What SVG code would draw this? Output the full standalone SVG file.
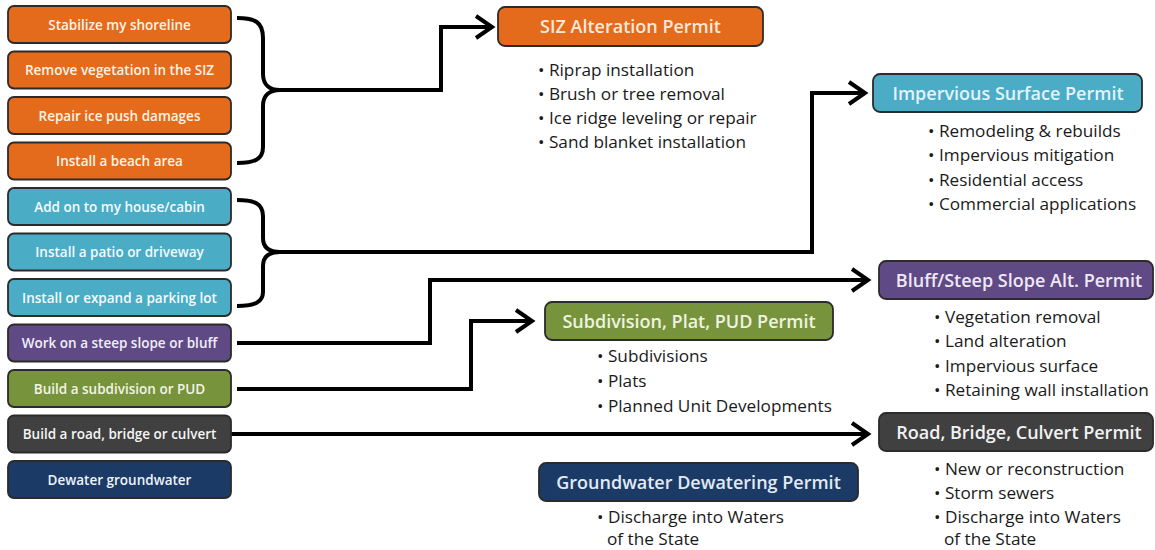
<svg xmlns="http://www.w3.org/2000/svg" width="1155" height="550" viewBox="0 0 1155 550">
<defs>
<marker id="arr" markerUnits="userSpaceOnUse" markerWidth="26" markerHeight="30" refX="20" refY="13" orient="auto" overflow="visible">
<path d="M4,2 L20,13 L4,24" fill="none" stroke="#000" stroke-width="4" stroke-linejoin="miter" stroke-linecap="butt"/>
</marker>
<style>
.box{stroke:#2b2b2b;stroke-width:1.8}
.lt{font-family:"Open Sans","Liberation Sans",Arial,sans-serif;font-weight:600;font-size:13.5px;text-anchor:middle}
.pt{font-family:"Open Sans","Liberation Sans",Arial,sans-serif;font-weight:600;font-size:18px;text-anchor:middle}
.bl{font-family:"Open Sans","Liberation Sans",Arial,sans-serif;font-size:17.2px;fill:#1a1a1a}
.or{fill:#E46A1C}.te{fill:#4BACC6}.pu{fill:#5F4A86}.gr{fill:#77933C}.dk{fill:#404040}.nv{fill:#1B3A66}
.con{fill:none;stroke:#000;stroke-width:4}
</style>
</defs>

<g id="connectors">
<path class="con" d="M237,18 C255,18 263,22 263,38 L263,74 C263,85 270,90 280,90 C270,90 263,95 263,106 L263,147 C263,159 255,163 237,163"/>
<path class="con" d="M280,90 H441 V27 H492" marker-end="url(#arr)"/>
<path class="con" d="M237,200 C255,200 263,204 263,216 L263,238 C263,248 270,252 280,252 C270,252 263,256 263,266 L263,292 C263,302 255,306 237,306"/>
<path class="con" d="M280,252 H812 V93 H865" marker-end="url(#arr)"/>
<path class="con" d="M237,343 H430 V280 H868" marker-end="url(#arr)"/>
<path class="con" d="M237,389 H471 V321 H532" marker-end="url(#arr)"/>
<path class="con" d="M231,434 H868" marker-end="url(#arr)"/>
</g>

<g id="n-stabilize"><rect class="box or" x="8" y="6" width="223" height="37" rx="6"/><text class="lt" x="119.5" y="29.5" fill="#FFF3E6">Stabilize my shoreline</text></g>
<g id="n-remove"><rect class="box or" x="8" y="51.5" width="223" height="37" rx="6"/><text class="lt" x="119.5" y="75" fill="#FFF3E6">Remove vegetation in the SIZ</text></g>
<g id="n-repair"><rect class="box or" x="8" y="97" width="223" height="37" rx="6"/><text class="lt" x="119.5" y="120.5" fill="#FFF3E6">Repair ice push damages</text></g>
<g id="n-beach"><rect class="box or" x="8" y="142.5" width="223" height="37" rx="6"/><text class="lt" x="119.5" y="166" fill="#FFF3E6">Install a beach area</text></g>
<g id="n-addon"><rect class="box te" x="8" y="188" width="223" height="37" rx="6"/><text class="lt" x="119.5" y="211.5" fill="#F4FBFD">Add on to my house/cabin</text></g>
<g id="n-patio"><rect class="box te" x="8" y="233.5" width="223" height="37" rx="6"/><text class="lt" x="119.5" y="257" fill="#F4FBFD">Install a patio or driveway</text></g>
<g id="n-parking"><rect class="box te" x="8" y="279" width="223" height="37" rx="6"/><text class="lt" x="119.5" y="302.5" fill="#F4FBFD">Install or expand a parking lot</text></g>
<g id="n-steep"><rect class="box pu" x="8" y="324.5" width="223" height="37" rx="6"/><text class="lt" x="119.5" y="348" fill="#F3EEF8">Work on a steep slope or bluff</text></g>
<g id="n-subdiv"><rect class="box gr" x="8" y="370" width="223" height="37" rx="6"/><text class="lt" x="119.5" y="393.5" fill="#F2F5E4">Build a subdivision or PUD</text></g>
<g id="n-road"><rect class="box dk" x="8" y="415.5" width="223" height="37" rx="6"/><text class="lt" x="119.5" y="439" fill="#F5F5F5">Build a road, bridge or culvert</text></g>
<g id="n-dewater"><rect class="box nv" x="8" y="461" width="223" height="37" rx="6"/><text class="lt" x="119.5" y="484.5" fill="#EEF3FA">Dewater groundwater</text></g>

<g id="p-siz"><rect class="box or" x="498" y="7" width="265" height="39" rx="7"/><text class="pt" x="630.5" y="33" fill="#FDE9D9">SIZ Alteration Permit</text>
<text class="bl" x="538" y="76">• Riprap installation</text>
<text class="bl" x="538" y="100">• Brush or tree removal</text>
<text class="bl" x="538" y="124">• Ice ridge leveling or repair</text>
<text class="bl" x="538" y="148">• Sand blanket installation</text></g>

<g id="p-impervious"><rect class="box te" x="873" y="74" width="269" height="38" rx="7"/><text class="pt" x="1008" y="99.5" fill="#E3F3F8">Impervious Surface Permit</text>
<text class="bl" x="928" y="137">• Remodeling &amp; rebuilds</text>
<text class="bl" x="928" y="161">• Impervious mitigation</text>
<text class="bl" x="928" y="186">• Residential access</text>
<text class="bl" x="928" y="210">• Commercial applications</text></g>

<g id="p-bluff"><rect class="box pu" x="879" y="261" width="274" height="38" rx="7"/><text class="pt" x="1019" y="286.5" fill="#EEE9F5">Bluff/Steep Slope Alt. Permit</text>
<text class="bl" x="934" y="323">• Vegetation removal</text>
<text class="bl" x="934" y="347">• Land alteration</text>
<text class="bl" x="934" y="372">• Impervious surface</text>
<text class="bl" x="934" y="396">• Retaining wall installation</text></g>

<g id="p-subdivision"><rect class="box gr" x="545" y="302" width="288" height="38" rx="7"/><text class="pt" x="689" y="327.5" fill="#EEF3E0">Subdivision, Plat, PUD Permit</text>
<text class="bl" x="597" y="362">• Subdivisions</text>
<text class="bl" x="597" y="387">• Plats</text>
<text class="bl" x="597" y="412">• Planned Unit Developments</text></g>

<g id="p-road"><rect class="box dk" x="879" y="413" width="274" height="38" rx="7"/><text class="pt" x="1019" y="438.5" fill="#F2F2F2">Road, Bridge, Culvert Permit</text>
<text class="bl" x="934" y="475">• New or reconstruction</text>
<text class="bl" x="934" y="499">• Storm sewers</text>
<text class="bl" x="934" y="523">• Discharge into Waters</text>
<text class="bl" x="944" y="545">of the State</text></g>

<g id="p-groundwater"><rect class="box nv" x="539" y="463" width="319" height="38" rx="7"/><text class="pt" x="698.5" y="488.5" fill="#E1EAF5">Groundwater Dewatering Permit</text>
<text class="bl" x="597" y="523">• Discharge into Waters</text>
<text class="bl" x="607" y="545">of the State</text></g>
</svg>
